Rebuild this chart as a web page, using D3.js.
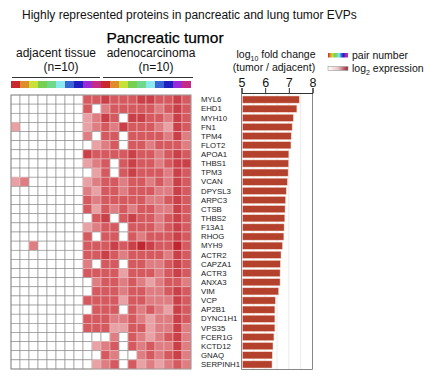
<!DOCTYPE html>
<html>
<head>
<meta charset="utf-8">
<script src="https://cdn.jsdelivr.net/npm/d3@7"></script>
<style>
  body { margin: 0; background: #fff; }
  text { font-family: "Liberation Sans", Arial, sans-serif; }
</style>
</head>
<body>
<div id="container"></div>
<script>
// Chart size
const width = 428, height = 377;

// Proteins, top to bottom
const proteins = ["MYL6", "EHD1", "MYH10", "FN1", "TPM4", "FLOT2", "APOA1", "THBS1", "TPM3", "VCAN",
    "DPYSL3", "ARPC3", "CTSB", "THBS2", "F13A1", "RHOG", "MYH9", "ACTR2", "CAPZA1", "ACTR3",
    "ANXA3", "VIM", "VCP", "AP2B1", "DYNC1H1", "VPS35", "FCER1G", "KCTD12", "GNAQ", "SERPINH1"];

// log10 fold change (tumor / adjacent)
const foldChange = [7.44, 7.34, 7.19, 7.14, 7.10, 7.09, 7.00, 6.99, 6.97, 6.94,
    6.89, 6.86, 6.84, 6.83, 6.80, 6.79, 6.73, 6.67, 6.64, 6.63,
    6.63, 6.57, 6.43, 6.41, 6.41, 6.41, 6.37, 6.33, 6.30, 6.29];

// sample columns: 10 adjacent tissue, 10 adenocarcinoma (pair numbers 1..10 twice)
const samples = d3.range(20);
const pairColors = ["#c8282c", "#e08c2c", "#c8e038", "#78d050", "#70d88a", "#8ae8ee",
    "#3a66d6", "#2020c0", "#9a2ad6", "#c42a86"];

// log2 expression level per protein and sample (0 = not detected)
const expression = [
    [0,0,0,0,0,0,0,0, 3,3, 4,3,3,3,4,4,3,3,4,3],
    [0,0,0,0,0,0,0,0, 3,0, 2,3,3,3,3,3,2,3,4,3],
    [0,0,0,0,0,0,0,0, 1,2, 4,3,0,4,4,3,3,2,4,3],
    [1,0,0,0,0,0,0,0, 1,2, 3,2,4,3,3,3,2,1,4,3],
    [0,0,0,0,0,0,0,0, 2,0, 3,3,0,3,3,3,3,2,4,2],
    [0,0,0,0,0,0,0,0, 0,1, 2,3,0,3,3,2,3,3,3,2],
    [0,0,0,0,0,0,0,0, 4,3, 3,3,3,4,3,3,2,3,4,3],
    [0,0,0,0,0,0,0,0, 1,2, 3,0,3,4,3,3,2,3,4,4],
    [0,0,0,0,0,0,0,0, 0,1, 3,0,3,4,3,3,3,2,4,3],
    [1,2,0,0,0,0,0,0, 1,2, 3,3,2,3,3,2,3,2,4,3],
    [0,0,0,0,0,0,0,0, 2,1, 3,3,2,3,3,3,2,2,4,3],
    [0,0,0,0,0,0,0,0, 3,2, 3,3,3,3,3,2,2,3,4,3],
    [0,0,0,0,0,0,0,0, 3,1, 3,2,3,2,3,3,2,2,4,3],
    [0,0,0,0,0,0,0,0, 0,3, 4,0,3,4,3,3,2,3,4,3],
    [0,0,0,0,0,0,0,0, 1,2, 3,3,0,3,3,3,2,3,4,3],
    [0,0,0,0,0,0,0,0, 3,0, 3,3,0,3,2,3,3,3,4,3],
    [0,0,2,0,0,0,0,0, 3,3, 3,4,3,4,5,4,3,3,5,3],
    [0,0,0,0,0,0,0,0, 3,3, 4,3,2,3,3,3,3,2,4,3],
    [0,0,0,0,0,0,0,0, 2,0, 3,3,0,3,3,2,2,3,4,3],
    [0,0,0,0,0,0,0,0, 3,3, 3,3,1,3,3,3,2,3,4,3],
    [0,0,0,0,0,0,0,0, 0,2, 3,3,2,3,2,1,2,3,3,2],
    [0,0,0,0,0,0,0,0, 0,3, 3,3,2,3,3,2,2,3,4,3],
    [0,0,0,0,0,0,0,0, 3,3, 3,3,1,3,3,2,2,2,4,3],
    [0,0,0,0,0,0,0,0, 0,3, 3,3,0,3,2,3,2,1,4,3],
    [0,0,0,0,0,0,0,0, 3,3, 3,2,2,3,2,1,2,2,4,3],
    [0,0,0,0,0,0,0,0, 3,3, 3,1,1,3,3,1,2,2,4,2],
    [0,0,0,0,0,0,0,0, 0,0, 0,2,0,3,2,1,2,3,4,2],
    [0,0,0,0,0,0,0,0, 0,1, 2,3,0,3,2,3,2,2,4,2],
    [0,0,0,0,0,0,0,0, 0,0, 3,2,0,0,2,3,2,3,4,2],
    [0,0,0,0,0,0,0,0, 0,1, 2,3,0,3,1,2,1,2,3,2]
];

// Axis ticks of the bar chart
const fcTicks = [5, 6, 7, 8];
const fcGrid = [5.5, 6, 6.5, 7, 7.5];

const svg = d3.select("#container")
    .append("svg")
    .attr("width", width)
    .attr("height", height);

// Scales
const x = d3.scaleBand().domain(samples).range([11, 191]);
const y = d3.scaleBand().domain(proteins).range([95, 369]);
const heat = d3.scaleLinear().domain([1, 3, 5]).range(["#e8a2a5", "#d45a60", "#c0262f"]);
const xf = d3.scaleLinear().domain([5, 8]).range([241.5, 312.5]);

// Titles
svg.append("text")
    .attr("x", 22).attr("y", 19)
    .attr("font-size", 12).attr("fill", "#111")
    .text("Highly represented proteins in pancreatic and lung tumor EVPs");

svg.append("text")
    .attr("x", 165).attr("y", 43)
    .attr("text-anchor", "middle")
    .attr("font-size", 15.5).attr("fill", "#000")
    .attr("stroke", "#000").attr("stroke-width", 0.25)
    .text("Pancreatic tumor");

// Group headers
const groups = [
    {name: "adjacent tissue", cx: 56, x0: 12, x1: 100},
    {name: "adenocarcinoma", cx: 151, x0: 103, x1: 193}
];
const gh = svg.append("g").attr("text-anchor", "middle").attr("font-size", 12).attr("fill", "#111");
gh.selectAll(".gname").data(groups).enter().append("text")
    .attr("x", d => d.cx).attr("y", 57)
    .text(d => d.name);
gh.selectAll(".gn").data(groups).enter().append("text")
    .attr("x", d => d.cx + 5).attr("y", 71)
    .text("(n=10)");
svg.append("g").selectAll("line").data(groups).enter().append("line")
    .attr("x1", d => d.x0).attr("x2", d => d.x1)
    .attr("y1", 77.5).attr("y2", 77.5)
    .attr("stroke", "#333").attr("stroke-width", 1);

// Pair number strip
svg.append("g").selectAll("rect").data(samples).enter().append("rect")
    .attr("x", d => x(d)).attr("y", 81)
    .attr("width", x.bandwidth()).attr("height", 7)
    .attr("fill", d => pairColors[d % 10]);

// Heatmap cells
const cells = [];
expression.forEach((row, i) => row.forEach((v, j) => cells.push({p: proteins[i], s: j, v: v})));
svg.append("g").selectAll("rect").data(cells).enter().append("rect")
    .attr("x", d => x(d.s)).attr("y", d => y(d.p))
    .attr("width", x.bandwidth()).attr("height", y.bandwidth())
    .attr("fill", d => d.v > 0 ? heat(d.v) : "#fff")
    .attr("stroke", d => d.v > 0 ? "#eab8ba" : "#8a8a8a")
    .attr("stroke-width", 0.6);
svg.append("rect")
    .attr("x", 11).attr("y", 95).attr("width", 180).attr("height", 274)
    .attr("fill", "none").attr("stroke", "#8a8a8a").attr("stroke-width", 0.8);

// Protein labels
svg.append("g").attr("font-size", 7.8).attr("fill", "#222")
    .selectAll("text").data(proteins).enter().append("text")
    .attr("x", 201).attr("y", d => y(d) + y.bandwidth() / 2)
    .attr("dy", "0.35em")
    .text(d => d);

// Bar chart grid lines
svg.append("g").selectAll("line").data(fcGrid).enter().append("line")
    .attr("x1", d => xf(d)).attr("x2", d => xf(d))
    .attr("y1", 93).attr("y2", 369)
    .attr("stroke", "#e6e6e6").attr("stroke-width", 0.8);

// Bars
svg.append("g").selectAll("rect").data(proteins).enter().append("rect")
    .attr("x", xf(5) + 1).attr("y", d => y(d) + 1)
    .attr("width", (d, i) => xf(foldChange[i]) - xf(5) - 1)
    .attr("height", y.bandwidth() - 2)
    .attr("fill", "#b3412c")
    .attr("stroke", "#f3d2c8").attr("stroke-width", 0.5);

// Box and top axis
svg.append("path")
    .attr("d", `M${xf(5)},93V369.5H${xf(8)}V93`)
    .attr("fill", "none").attr("stroke", "#888").attr("stroke-width", 1);
const ax = svg.append("g")
    .attr("transform", "translate(0,93)")
    .call(d3.axisTop(xf).tickValues(fcTicks).tickSize(5).tickPadding(1).tickFormat(d3.format("d")));
ax.select(".domain").attr("stroke", "#333");
ax.selectAll("line").attr("stroke", "#333");
ax.selectAll("text").attr("font-size", 12.5).attr("fill", "#111")
    .attr("font-family", "Liberation Sans, Arial, sans-serif");

// Bar chart title
const bt = svg.append("g").attr("text-anchor", "middle").attr("fill", "#111").attr("font-size", 10.5);
const t1 = bt.append("text").attr("x", 276).attr("y", 58);
t1.append("tspan").text("log");
t1.append("tspan").attr("font-size", 7).attr("dy", 2.5).text("10");
t1.append("tspan").attr("dy", -2.5).text(" fold change");
bt.append("text").attr("x", 274).attr("y", 71).text("(tumor / adjacent)");

// Legend
const defs = svg.append("defs");
const gp = defs.append("linearGradient").attr("id", "gpair");
gp.selectAll("stop").data(pairColors).enter().append("stop")
    .attr("offset", (d, i) => i / (pairColors.length - 1))
    .attr("stop-color", d => d);
const ge = defs.append("linearGradient").attr("id", "gexpr");
ge.append("stop").attr("offset", 0).attr("stop-color", "#fff");
ge.append("stop").attr("offset", 0.5).attr("stop-color", "#e8c6c8");
ge.append("stop").attr("offset", 1).attr("stop-color", "#9c1e2c");

svg.append("rect").attr("x", 328).attr("y", 53).attr("width", 20).attr("height", 4.5)
    .attr("fill", "url(#gpair)");
svg.append("rect").attr("x", 328).attr("y", 66.5).attr("width", 20).attr("height", 4)
    .attr("fill", "url(#gexpr)").attr("stroke", "#999").attr("stroke-width", 0.6);

const lg = svg.append("g").attr("font-size", 10.5).attr("fill", "#111");
lg.append("text").attr("x", 352).attr("y", 58.5).text("pair number");
const t2 = lg.append("text").attr("x", 352).attr("y", 72);
t2.append("tspan").text("log");
t2.append("tspan").attr("font-size", 7).attr("dy", 2.5).text("2");
t2.append("tspan").attr("dy", -2.5).text(" expression");
</script>
</body>
</html>
